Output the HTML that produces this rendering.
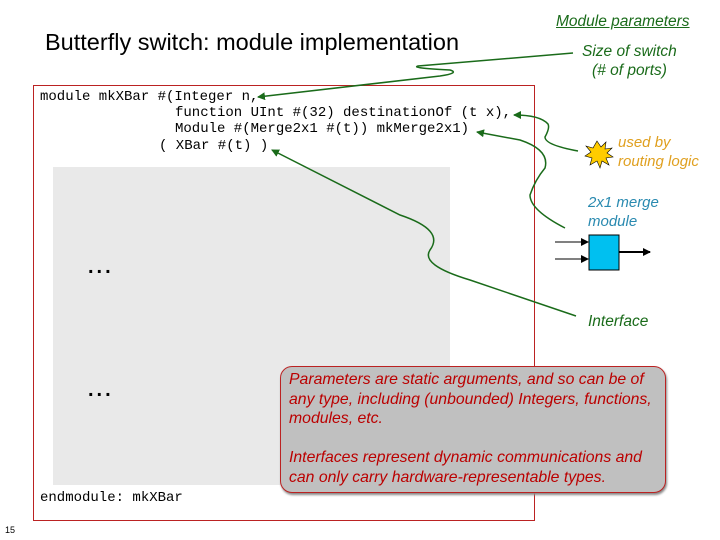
<!DOCTYPE html>
<html><head><style>
body{margin:0;width:720px;height:540px;background:#fff;position:relative;overflow:hidden;font-family:"Liberation Sans",sans-serif}
.a{position:absolute;white-space:pre}
.code{font-family:"Liberation Mono",monospace;font-size:14px;color:#000}
.g{color:#1a6b1a;font-style:italic;font-size:15.5px}
</style></head><body>
<div class="a" style="left:45px;top:29px;font-size:23.5px;color:#000">Butterfly switch: module implementation</div>
<div class="a g" style="left:556px;top:13px;text-decoration:underline">Module parameters</div>
<div class="a g" style="left:582px;top:43px">Size of switch</div>
<div class="a g" style="left:592px;top:62px">(# of ports)</div>
<div class="a" style="left:33px;top:85px;width:500px;height:434px;border:1px solid #b22"></div>
<div class="a" style="left:53px;top:167px;width:397px;height:318px;background:#e9e9e9"></div>
<div class="a code" style="left:40px;top:89px">module mkXBar #(Integer n,</div>
<div class="a code" style="left:175px;top:105px">function UInt #(32) destinationOf (t x),</div>
<div class="a code" style="left:175px;top:121px">Module #(Merge2x1 #(t)) mkMerge2x1)</div>
<div class="a code" style="left:159px;top:138px">( XBar #(t) )</div>
<div class="a code" style="left:40px;top:490px">endmodule: mkXBar</div>
<div class="a" style="left:88px;top:256px;font-size:20px;font-weight:bold;letter-spacing:3px">...</div>
<div class="a" style="left:88px;top:379px;font-size:20px;font-weight:bold;letter-spacing:3px">...</div>
<div class="a" style="left:5px;top:525px;font-size:9px">15</div>
<div class="a" style="left:618px;top:133px;font-size:15px;font-style:italic;color:#e0a020;line-height:19px">used by<br>routing logic</div>
<div class="a" style="left:588px;top:193px;font-size:15px;font-style:italic;color:#2a8ab0;line-height:19px">2x1 merge<br>module</div>
<div class="a g" style="left:588px;top:313px">Interface</div>
<div class="a" style="left:280px;top:366px;width:384px;height:125px;background:#c0c0c0;border:1px solid #b22;border-radius:12px;box-shadow:1px 2px 2px #888"></div>
<div class="a" style="left:289px;top:370px;font-size:15.8px;font-style:italic;color:#b00;line-height:19.5px">Parameters are static arguments, and so can be of
any type, including (unbounded) Integers, functions,
modules, etc.

Interfaces represent dynamic communications and
can only carry hardware-representable types.</div>
<svg class="a" style="left:0;top:0" width="720" height="540">
<defs><marker id="m" markerWidth="8" markerHeight="8" refX="7" refY="4" orient="auto" markerUnits="userSpaceOnUse"><path d="M0,0 L8,4 L0,8z" fill="#1a6b1a"/></marker>
<marker id="k" markerWidth="8" markerHeight="8" refX="7" refY="4" orient="auto" markerUnits="userSpaceOnUse"><path d="M0,0 L8,4 L0,8z" fill="#000"/></marker></defs>
<g fill="none" stroke="#1a6b1a" stroke-width="1.5">
<path d="M573,53 L418,66 Q410,68 450,70 Q460,73 440,76 L258,97" marker-end="url(#m)"/>
<path d="M578,151 Q545,145 545,137 Q550,128 548,124 Q540,115 514,115" marker-end="url(#m)"/>
<path d="M565,228 Q530,210 530,195 Q535,180 545,168 Q550,150 520,140 L477,132" marker-end="url(#m)"/>
<path d="M576,316 L470,280 Q420,265 430,250 Q445,230 400,215 L272,150" marker-end="url(#m)"/>
</g>
<polygon points="597,141 601,147 606,142 605,149 612,148 607,153 613,157 606,158 609,165 602,161 600,168 597,161 590,165 592,158 585,156 591,152 586,146 593,148" fill="#ffcc00" stroke="#000" stroke-width="0.6"/>
<rect x="589" y="235" width="30" height="35" fill="#00c0f0" stroke="#000"/>
<g stroke="#000" stroke-width="1"><line x1="555" y1="242" x2="588" y2="242" marker-end="url(#k)"/><line x1="555" y1="259" x2="588" y2="259" marker-end="url(#k)"/><line x1="619" y1="252" x2="650" y2="252" stroke-width="2" marker-end="url(#k)"/></g>
</svg>
</body></html>
